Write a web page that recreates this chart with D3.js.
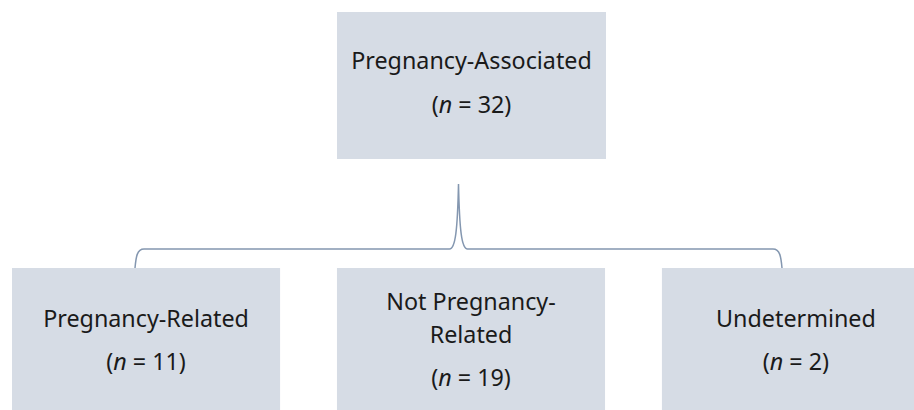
<!DOCTYPE html>
<html>
<head>
<meta charset="utf-8">
<script src="https://cdn.jsdelivr.net/npm/d3@7"></script>
<style>
  body { margin: 0; background: #fff; }
  text { font-family: "Noto Sans", sans-serif; fill: #1a1a1a; }
</style>
</head>
<body>
<svg id="chart" width="914" height="410"></svg>
<script>
// root node
var rootLabel = ["Pregnancy-Associated"];
var rootN = 32;

// child nodes
var childIds = ["related", "notRelated", "undetermined"];
var childLabels = [["Pregnancy-Related"], ["Not Pregnancy-", "Related"], ["Undetermined"]];
var childN = [11, 19, 2];

var svg = d3.select("#chart"),
    width = +svg.attr("width"),
    height = +svg.attr("height");

var boxFill = "#d6dce5",
    lineColor = "#8497b0",
    boxH = 147,
    fontSize = "23.3px";

// bottom boxes on a band scale
var x = d3.scaleBand()
    .domain(childIds)
    .range([12, 930])
    .paddingInner(0.175);

// top box
var rootBox = { x: 337, y: 12, w: 269 };

svg.append("rect")
    .attr("x", rootBox.x).attr("y", rootBox.y)
    .attr("width", rootBox.w).attr("height", boxH)
    .attr("fill", boxFill);

function addLabel(g, cx, lines, n, y0, lineGap, nGap) {
    var t = g.append("text").attr("text-anchor", "middle").style("font-size", fontSize);
    lines.forEach(function(l, i) {
        t.append("tspan").attr("x", cx).attr("y", y0 + i * lineGap).text(l);
    });
    var last = t.append("tspan").attr("x", cx).attr("y", y0 + (lines.length - 1) * lineGap + nGap);
    last.text("(");
    t.append("tspan").style("font-style", "italic").text("n");
    t.append("tspan").text(" = " + n + ")");
}

addLabel(svg, rootBox.x + rootBox.w / 2, rootLabel, rootN, 69, 32, 44);

var boxY = 268;
svg.selectAll(".child")
    .data(childIds)
    .enter()
    .append("rect")
    .attr("class", "child")
    .attr("x", function(d){ return x(d) })
    .attr("y", boxY)
    .attr("width", x.bandwidth())
    .attr("height", boxH)
    .attr("fill", boxFill);

childIds.forEach(function(d, i) {
    var lines = childLabels[i];
    var y0 = lines.length > 1 ? 310 : 327;
    addLabel(svg, x(d) + x.bandwidth() / 2, lines, childN[i], y0, 33, 43);
});

// the brace
var bx0 = 135, bx1 = 782, bm = (bx0 + bx1) / 2, by = 249, tipY = 184;
var brace = d3.path();
brace.moveTo(bx0, boxY);
brace.bezierCurveTo(bx0 + 1, by + 8, bx0 + 2, by, bx0 + 9, by);
brace.lineTo(bm - 9, by);
brace.bezierCurveTo(bm - 3, by, bm - 1, by - 20, bm, tipY);
brace.bezierCurveTo(bm + 1, by - 20, bm + 3, by, bm + 9, by);
brace.lineTo(bx1 - 9, by);
brace.bezierCurveTo(bx1 - 2, by, bx1 - 1, by + 8, bx1, boxY);

svg.append("path")
    .attr("d", brace.toString())
    .attr("fill", "none")
    .attr("stroke", lineColor)
    .attr("stroke-width", 1.5);
</script>
</body>
</html>
